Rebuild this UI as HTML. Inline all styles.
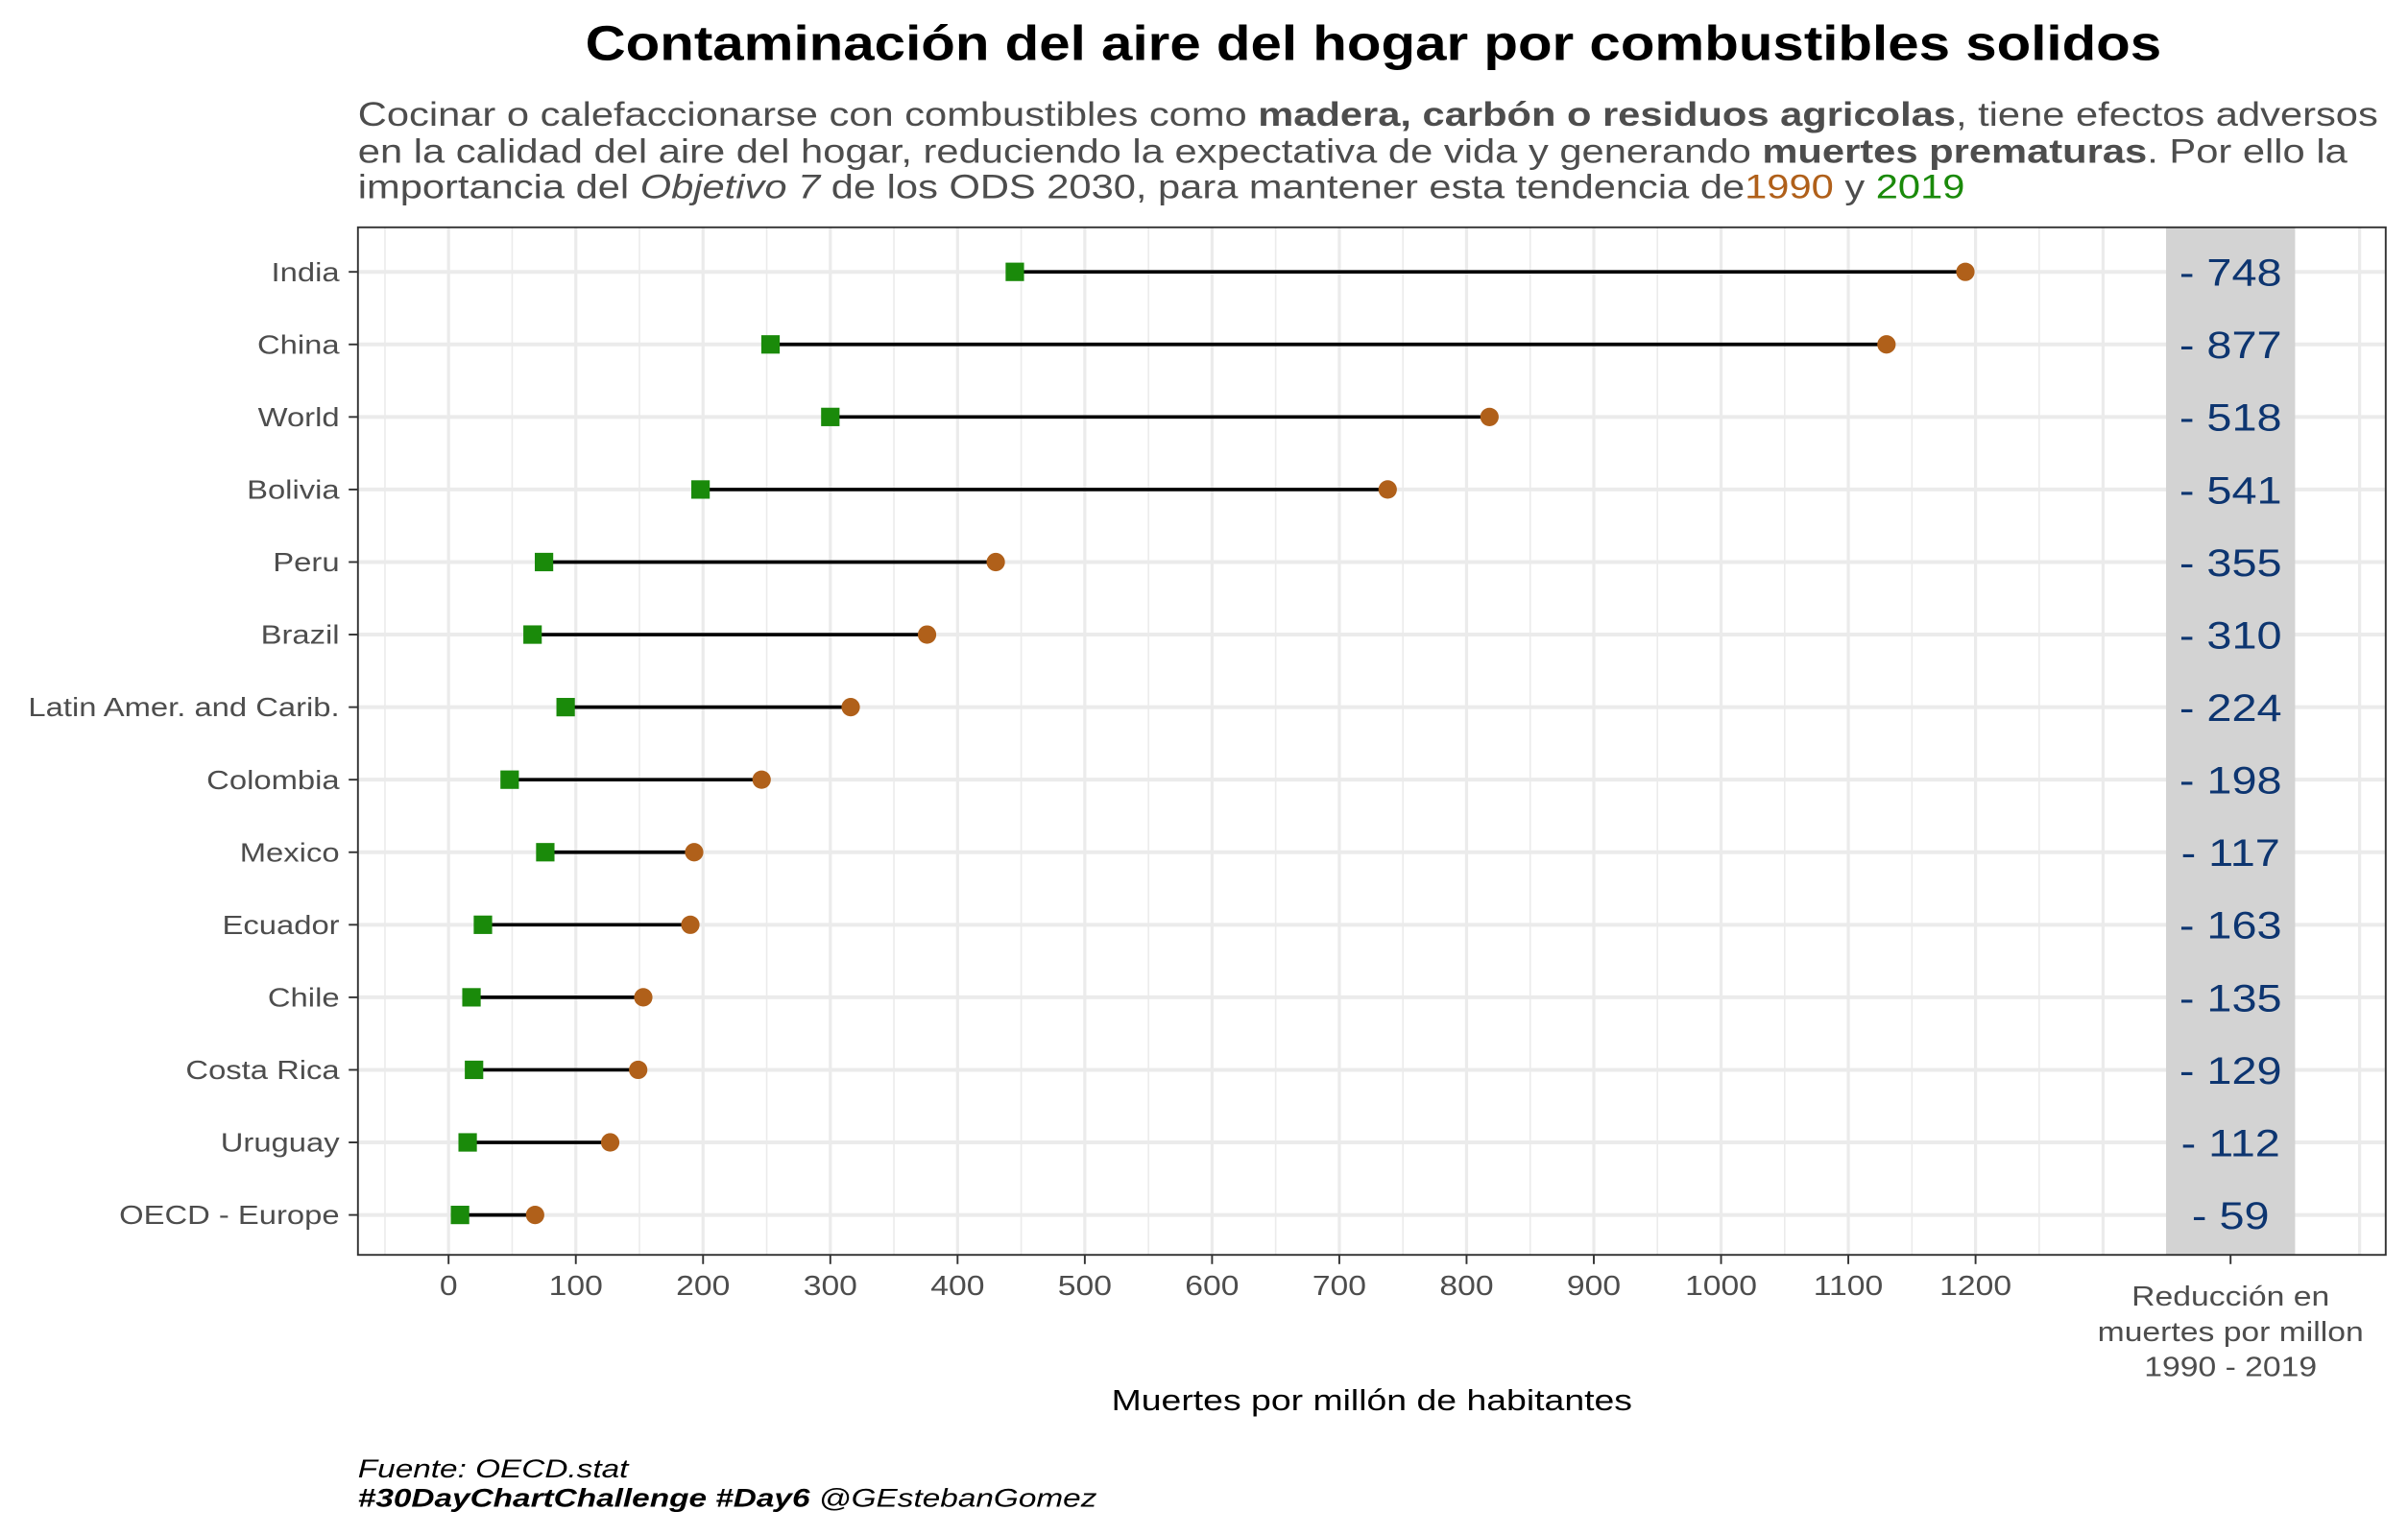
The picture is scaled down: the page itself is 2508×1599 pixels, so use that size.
<!DOCTYPE html>
<html><head><meta charset="utf-8"><style>
html,body{margin:0;padding:0;background:#fff;}
svg{display:block;font-family:"Liberation Sans",Arial,sans-serif;}
</style></head><body>
<svg id="chart" width="2508" height="1599" viewBox="0 0 1567.5 999.375" xmlns="http://www.w3.org/2000/svg">
<rect x="0" y="0" width="1567.5" height="999.375" fill="#fff"/>
<text x="894" y="39" text-anchor="middle" font-size="32" font-weight="bold" fill="#000" textLength="1026" lengthAdjust="spacingAndGlyphs">Contaminación del aire del hogar por combustibles solidos</text>
<g font-size="22" fill="#4d4d4d">
<text x="233" y="82" textLength="1315" lengthAdjust="spacingAndGlyphs">Cocinar o calefaccionarse con combustibles como <tspan font-weight="bold">madera, carbón o residuos agricolas</tspan>, tiene efectos adversos</text>
<text x="233" y="106" textLength="1295" lengthAdjust="spacingAndGlyphs">en la calidad del aire del hogar, reduciendo la expectativa de vida y generando <tspan font-weight="bold">muertes prematuras</tspan>. Por ello la</text>
<text x="233" y="129" textLength="1046" lengthAdjust="spacingAndGlyphs">importancia del <tspan font-style="italic">Objetivo 7</tspan> de los ODS 2030, para mantener esta tendencia de<tspan fill="#b0601a">1990</tspan> y <tspan fill="#1a8a0a">2019</tspan></text>
</g>
<g id="grid"></g>
<rect x="1410" y="148" width="84" height="669" fill="#d3d3d3"/>
<g id="marks"></g>
<rect x="233" y="148" width="1320" height="669" fill="none" stroke="#333" stroke-width="1.2"/>
<g id="axes"></g>
<text x="893" y="918" text-anchor="middle" font-size="19" fill="#000" textLength="339" lengthAdjust="spacingAndGlyphs">Muertes por millón de habitantes</text>
<g font-size="17" font-style="italic" fill="#000">
<text x="233" y="962" textLength="176" lengthAdjust="spacingAndGlyphs">Fuente: OECD.stat</text>
<text x="233" y="981" textLength="481" lengthAdjust="spacingAndGlyphs"><tspan font-weight="bold">#30DayChartChallenge #Day6</tspan> @GEstebanGomez</text>
</g>
</svg>
<script>
const countries = ["India","China","World","Bolivia","Peru","Brazil","Latin Amer. and Carib.","Colombia","Mexico","Ecuador","Chile","Costa Rica","Uruguay","OECD - Europe"];
const v1990 = [1192,1130,818,738,430,376,316,246,193,190,153,149,127,68];
const v2019 = [445,253,300,198,75,66,92,48,76,27,18,20,15,9];
const reductionLabels = ["748","877","518","541","355","310","224","198","117","163","135","129","112","59"];
const xTicks = [0,100,200,300,400,500,600,700,800,900,1000,1100,1200];

const NS="http://www.w3.org/2000/svg";
const X0=292, PX=(1286-292)/1200;
const xs=v=>X0+v*PX;
const Y0=177, DY=(791-177)/13;
const ys=i=>Y0+i*DY;
const stretched=[];
function mk(tag,attrs,parent){const e=document.createElementNS(NS,tag);for(const k in attrs)e.setAttribute(k,attrs[k]);parent.appendChild(e);if(tag==='text')stretched.push(e);return e;}
const grid=document.getElementById('grid'),marks=document.getElementById('marks'),axes=document.getElementById('axes');
for(let v=-50;v<=1250;v+=100){const l=mk('line',{x1:xs(v),x2:xs(v),y1:148,y2:817,stroke:'#ebebeb','stroke-width':1},grid);

}
[1369,1452,1536].forEach(x=>{const l=mk('line',{x1:x,x2:x,y1:148,y2:817,stroke:'#ebebeb','stroke-width':2},grid);

});
xTicks.forEach(v=>{const l=mk('line',{x1:xs(v),x2:xs(v),y1:148,y2:817,stroke:'#ebebeb','stroke-width':2},grid);


const t=mk('line',{x1:xs(v),x2:xs(v),y1:817,y2:823,stroke:'#333','stroke-width':1.2},axes);


const tx=mk('text',{x:xs(v),y:843,'text-anchor':'middle','font-size':18,fill:'#4d4d4d'},axes);tx.textContent=v;

});
{const t=mk('line',{x1:1452,x2:1452,y1:817,y2:823,stroke:'#333','stroke-width':1.2},axes);


["Reducción en","muertes por millon","1990 - 2019"].forEach((s,k)=>{const tx=mk('text',{x:1452,y:850+k*23,'text-anchor':'middle','font-size':18,fill:'#4d4d4d'},axes);tx.textContent=s;

});}
countries.forEach((c,i)=>{const y=ys(i);
const g=mk('line',{x1:233,x2:1553,y1:y,y2:y,stroke:'#ebebeb','stroke-width':2.5},grid);


const t=mk('line',{x1:227,x2:233,y1:y,y2:y,stroke:'#333','stroke-width':1.2},axes);


const lb=mk('text',{x:221,y:y+6,'text-anchor':'end','font-size':17.5,fill:'#4d4d4d'},axes);lb.textContent=c;


const seg=mk('line',{x1:xs(v2019[i]),x2:xs(v1990[i]),y1:y,y2:y,stroke:'#000','stroke-width':2.3},marks);


const sq=mk('rect',{x:xs(v2019[i])-6,y:y-6,width:12,height:12,fill:'#1a8a0a'},marks);


const ci=mk('circle',{cx:xs(v1990[i]),cy:y,r:6,fill:'#b0601a'},marks);


const rl=mk('text',{x:1452,y:y+9,'text-anchor':'middle','font-size':25,fill:'#0d3570'},marks);rl.textContent='- '+reductionLabels[i];

});
stretched.forEach(t=>{const w=t.getComputedTextLength();t.setAttribute('textLength',(w*1.17).toFixed(1));t.setAttribute('lengthAdjust','spacingAndGlyphs');});
</script>
</body></html>
